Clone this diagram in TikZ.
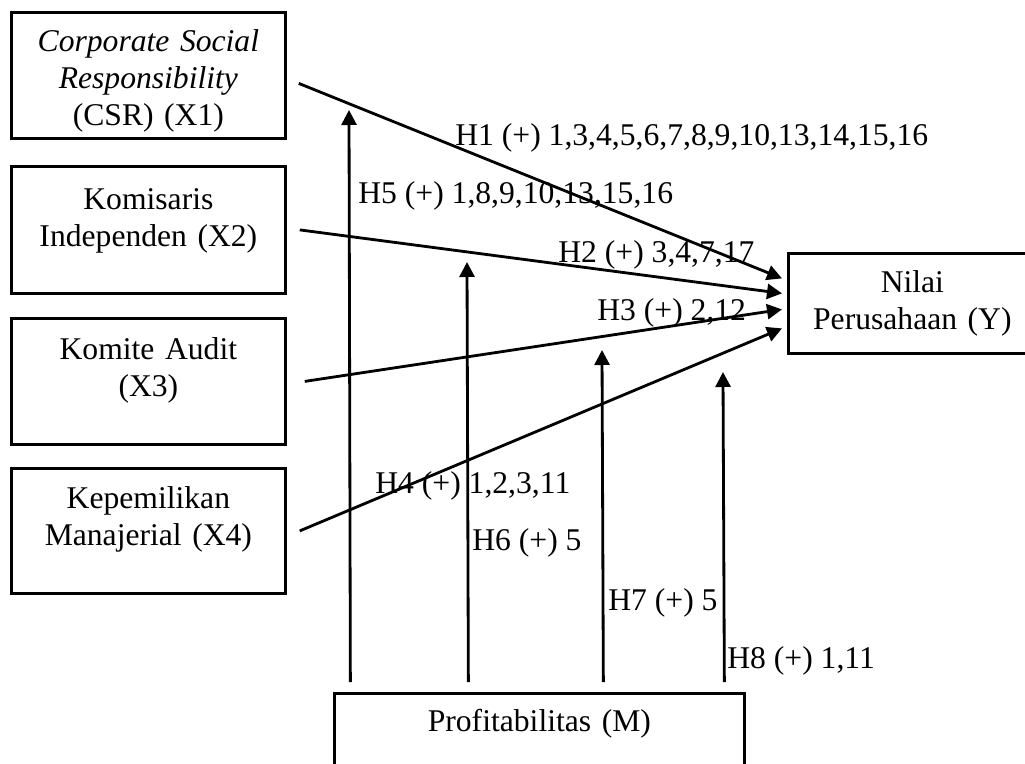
\documentclass[tikz,border=0pt]{standalone}
\usepackage{fontspec}
\setmainfont{Liberation Serif}
\usetikzlibrary{arrows.meta,calc}

\begin{document}
\begin{tikzpicture}[
    x=0.02cm, y=-0.02cm,
    every node/.style={font=\fontsize{18}{21}\selectfont},
    varbox/.style={rectangle, draw, line width=1.6pt, anchor=north west, inner sep=0pt, text width=#1, text centered, text height=0.82cm, text depth=1.70cm},
    varbox/.default=5.48cm,
    hyp/.style={-{Triangle[length=0.3cm, width=0.3cm]}, line width=1.6pt},
    lbl/.style={anchor=base west, inner sep=0pt}
]
    \useasboundingbox (0,0) rectangle (1025,764);

    % Variabel
    \node[varbox, text height=0.78cm, text depth=1.74cm] (csr) at (10,11) {\textit{Corporate Social}\\\textit{Responsibility}\\(CSR) (X1)};
    \node[varbox, text height=0.86cm, text depth=1.68cm] (kom) at (10,165) {Komisaris\\Independen (X2)};
    \node[varbox] (aud) at (10,317) {Komite Audit\\(X3)};
    \node[varbox, text height=0.80cm] (kep) at (10,467) {Kepemilikan\\Manajerial (X4)};
    \node[rectangle, draw, line width=1.6pt, anchor=north west, minimum width=4.96cm, minimum height=2cm, text width=4.5cm, text centered] (nilai) at (787,252) {Nilai\\Perusahaan (Y)};
    \node[varbox=8.2cm, text height=0.76cm, text depth=1.6cm] (profit) at (333,692) {Profitabilitas (M)};

    % Hipotesis
    \draw[hyp] ($(csr.east)+(12,8)$) -- ($(nilai.west)+(-5,-25)$);
    \draw[hyp] ($(kom.east)+(13,0)$) -- ($(nilai.west)+(-5,-10)$);
    \draw[hyp] ($(aud.east)+(18,0)$) -- ($(nilai.west)+(-5,6)$);
    \draw[hyp] ($(kep.east)+(13,0)$) -- ($(nilai.west)+(-5,25)$);

    \coordinate (m1) at (349,110);
    \coordinate (m2) at (467,262);
    \coordinate (m3) at (602,350);
    \coordinate (m4) at (723,372);
    \draw[hyp] ($(profit.north)+(-189,-10)$) -- (m1);
    \draw[hyp] ($(profit.north)+(-71,-10)$) -- (m2);
    \draw[hyp] ($(profit.north)+(64,-10)$) -- (m3);
    \draw[hyp] ($(profit.north)+(185,-10)$) -- (m4);

    \node[lbl] (h1) at (455,145) {H1 (+) 1,3,4,5,6,7,8,9,10,13,14,15,16};
    \node[lbl] (h5) at (358,203) {H5 (+) 1,8,9,10,13,15,16};
    \node[lbl] (h2) at (558,262) {H2 (+) 3,4,7,17};
    \node[lbl] (h3) at (597,320) {H3 (+) 2,12};
    \node[lbl] (h4) at (375,493) {H4 (+) 1,2,3,11};
    \node[lbl] (h6) at (472,550) {H6 (+) 5};
    \node[lbl] (h7) at (608,610) {H7 (+) 5};
    \node[lbl] (h8) at (727,668) {H8 (+) 1,11};
\end{tikzpicture}
\end{document}
